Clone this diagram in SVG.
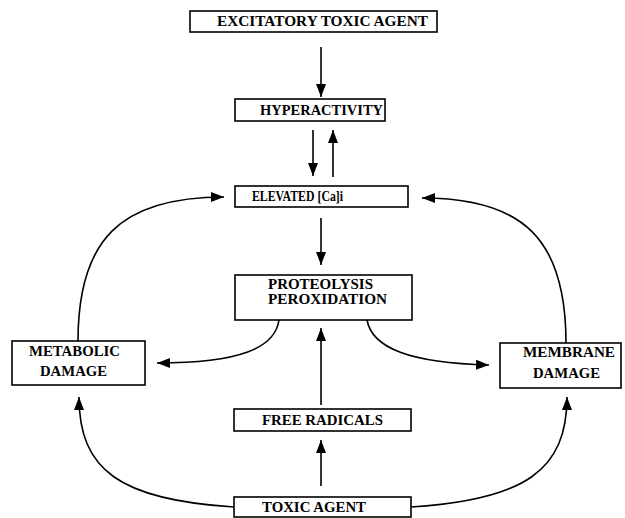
<svg xmlns="http://www.w3.org/2000/svg" width="625" height="518" viewBox="0 0 625 518">
<style>
.box{fill:#fff;stroke:#000;stroke-width:1.6}
.t{font-family:"Liberation Serif","Times New Roman",serif;font-weight:bold;font-size:15px;fill:#000}
.c{fill:none;stroke:#000;stroke-width:1.6}
</style>
<defs>
<marker id="ah" markerUnits="userSpaceOnUse" markerWidth="14" markerHeight="10" refX="13" refY="5" orient="auto">
<path d="M0,0 L13,5 L0,10 Z" fill="#000"/>
</marker>
</defs>
<rect width="625" height="518" fill="#fff"/>
<g id="connectors">
<path class="c" d="M321,47 V97" marker-end="url(#ah)"/>
<path class="c" d="M313,130 V176" marker-end="url(#ah)"/>
<path class="c" d="M333,177 V130" marker-end="url(#ah)"/>
<path class="c" d="M321,218 V265" marker-end="url(#ah)"/>
<path class="c" d="M321,405 V328" marker-end="url(#ah)"/>
<path class="c" d="M321,486 V440" marker-end="url(#ah)"/>
<path class="c" d="M78,341 C78,240 120,197 224,197" marker-end="url(#ah)"/>
<path class="c" d="M566,343 C566,240 524,198 422,198" marker-end="url(#ah)"/>
<path class="c" d="M279,320 C275,348 240,363 157,363" marker-end="url(#ah)"/>
<path class="c" d="M367,320 C372,348 410,363 489,365" marker-end="url(#ah)"/>
<path class="c" d="M234,507 C120,500 79,470 79,397" marker-end="url(#ah)"/>
<path class="c" d="M411,507 C525,500 567,470 567,397" marker-end="url(#ah)"/>
</g>
<g id="excitatory">
<rect class="box" x="190" y="11" width="247" height="21"/>
<text class="t" x="217" y="26" textLength="211" lengthAdjust="spacingAndGlyphs">EXCITATORY TOXIC AGENT</text>
</g>
<g id="hyperactivity">
<rect class="box" x="235" y="99" width="150" height="22"/>
<text class="t" x="260" y="115" textLength="123" lengthAdjust="spacingAndGlyphs">HYPERACTIVITY</text>
</g>
<g id="elevated">
<rect class="box" x="235" y="186" width="173" height="21"/>
<text class="t" x="252" y="201" textLength="91" lengthAdjust="spacingAndGlyphs">ELEVATED [Ca]i</text>
</g>
<g id="proteolysis">
<rect class="box" x="235" y="275" width="177" height="45"/>
<text class="t" x="268" y="289" textLength="105" lengthAdjust="spacingAndGlyphs">PROTEOLYSIS</text>
<text class="t" x="268" y="304" textLength="119" lengthAdjust="spacingAndGlyphs">PEROXIDATION</text>
</g>
<g id="metabolic">
<rect class="box" x="12" y="341" width="133" height="44"/>
<text class="t" x="29" y="356" textLength="91" lengthAdjust="spacingAndGlyphs">METABOLIC</text>
<text class="t" x="40" y="376" textLength="67" lengthAdjust="spacingAndGlyphs">DAMAGE</text>
</g>
<g id="membrane">
<rect class="box" x="500" y="343" width="121" height="45"/>
<text class="t" x="523" y="357" textLength="92" lengthAdjust="spacingAndGlyphs">MEMBRANE</text>
<text class="t" x="533" y="378" textLength="67" lengthAdjust="spacingAndGlyphs">DAMAGE</text>
</g>
<g id="free-radicals">
<rect class="box" x="234" y="409" width="177" height="22"/>
<text class="t" x="262" y="425" textLength="121" lengthAdjust="spacingAndGlyphs">FREE RADICALS</text>
</g>
<g id="toxic-agent">
<rect class="box" x="234" y="497" width="177" height="20"/>
<text class="t" x="262" y="512" textLength="104" lengthAdjust="spacingAndGlyphs">TOXIC AGENT</text>
</g>
</svg>
